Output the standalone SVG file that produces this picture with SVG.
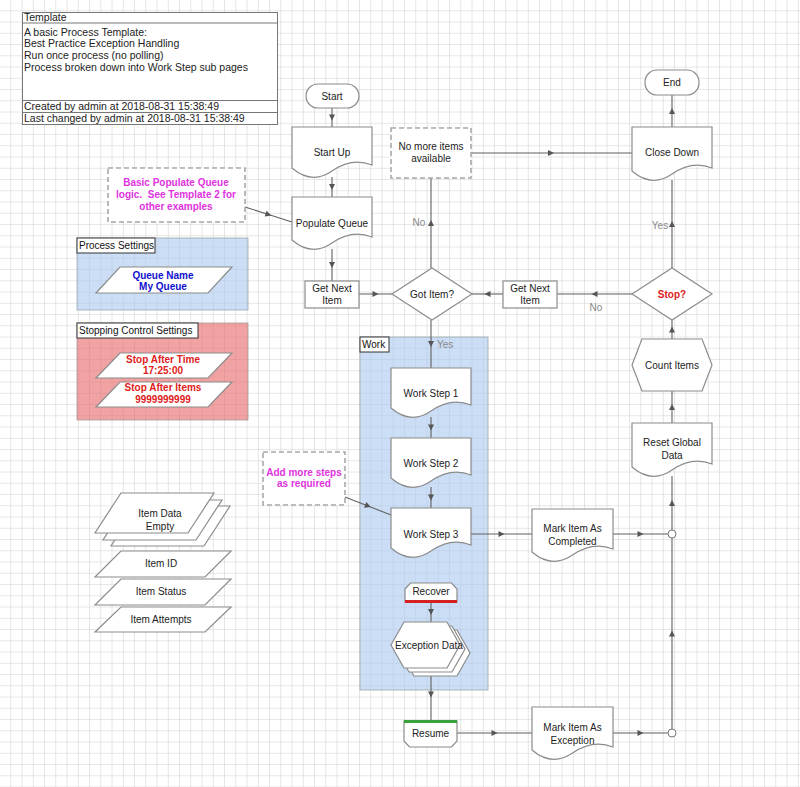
<svg xmlns="http://www.w3.org/2000/svg" width="800" height="787" viewBox="0 0 800 787">
<defs>
<pattern id="grid" width="11.25" height="11.25" patternUnits="userSpaceOnUse">
<path d="M11.25 0V11.25M0 11.25H11.25" fill="none" stroke="#cdcdcd" stroke-width="1"/>
</pattern>
<marker id="arr" viewBox="0 0 8 8" refX="4" refY="4" markerWidth="8" markerHeight="8" markerUnits="userSpaceOnUse" orient="auto">
<path d="M1 1L7 4L1 7Z" fill="#555"/>
</marker>
<style>
.t{font-family:"Liberation Sans",Arial,sans-serif;font-size:10px;fill:#222;text-anchor:middle}
.tl{font-family:"Liberation Sans",Arial,sans-serif;font-size:10.5px;fill:#222}
.lab{font-family:"Liberation Sans",Arial,sans-serif;font-size:10px;fill:#888}
.n{fill:#fff;stroke:#8c8c8c;stroke-width:1.2}
.note{fill:#fff;stroke:#a8a8a8;stroke-width:1.6;stroke-dasharray:5 3}
.mag{font-family:"Liberation Sans",Arial,sans-serif;font-size:10px;font-weight:bold;fill:#e033e0;text-anchor:middle}
.blu{font-family:"Liberation Sans",Arial,sans-serif;font-size:10px;font-weight:bold;fill:#1010d0;text-anchor:middle}
.red{font-family:"Liberation Sans",Arial,sans-serif;font-size:10px;font-weight:bold;fill:#e02020;text-anchor:middle}
.c{fill:none;stroke:#606060;stroke-width:1.1;marker-mid:url(#arr)}
.pl{font-family:"Liberation Sans",Arial,sans-serif;font-size:10px;fill:#111}
</style>
</defs>
<rect width="800" height="787" fill="#fff"/>
<rect width="800" height="787" fill="url(#grid)"/>

<!-- panels -->
<g id="panel-process-settings">
<rect x="77" y="238" width="171" height="72" fill="#a9c8ee" fill-opacity="0.6" stroke="#9aa" stroke-width="0.8"/>
<rect x="77" y="238" width="78" height="15" fill="#fff" stroke="#333" stroke-width="1"/>
<text class="pl" x="79" y="249">Process Settings</text>
</g>
<g id="panel-stopping">
<rect x="77" y="323" width="171" height="97" fill="#e86a6a" fill-opacity="0.62" stroke="#a99" stroke-width="0.8"/>
<rect x="77" y="323" width="121" height="15" fill="#fff" stroke="#333" stroke-width="1"/>
<text class="pl" x="79" y="334">Stopping Control Settings</text>
</g>
<g id="panel-work">
<rect x="360" y="337" width="128" height="353" fill="#a9c8ee" fill-opacity="0.6" stroke="#9aa" stroke-width="0.8"/>
<rect x="360" y="337" width="29" height="15" fill="#fff" stroke="#333" stroke-width="1"/>
<text class="pl" x="362" y="348">Work</text>
</g>

<!-- connectors -->
<g id="connectors">
<path class="c" d="M332 108L332 117.5L332 127"/>
<path class="c" d="M332 177L332 187L332 197"/>
<path class="c" d="M332 249L332 265L332 281"/>
<path class="c" d="M359 294L375.5 294L392 294"/>
<path class="c" d="M431 268L431 223L431 178"/>
<path class="c" d="M471 153L551 153L632 153"/>
<path class="c" d="M672 127L672 111L672 95"/>
<path class="c" d="M672 268L672 224L672 180"/>
<path class="c" d="M632 294L594.5 294L557 294"/>
<path class="c" d="M503 294L487.5 294L472 294"/>
<path class="c" d="M431 320L431 344L431 368"/>
<path class="c" d="M431 417L431 427.5L431 438"/>
<path class="c" d="M431 487L431 497.5L431 508"/>
<path class="c" d="M471 534L501.5 534L532 534"/>
<path class="c" d="M613 534L640.5 534L668 534"/>
<path class="c" d="M672 530L672 503L672 476"/>
<path class="c" d="M672 729L672 633.5L672 538"/>
<path class="c" d="M672 339L672 329.5L672 320"/>
<path class="c" d="M672 423L672 407L672 391"/>
<path class="c" d="M431 602L431 612L431 622"/>
<path class="c" d="M431 668L431 694.5L431 721"/>
<path class="c" d="M457 733L494.5 733L532 733"/>
<path class="c" d="M613 733L640.5 733L668 733"/>
<path class="c" d="M245 207L268.5 214.5L292 222"/>
<path class="c" d="M345 497L368 506L391 515"/>
<text class="lab" x="419" y="226" text-anchor="middle">No</text>
<text class="lab" x="660" y="228.5" text-anchor="middle">Yes</text>
<text class="lab" x="596" y="310.5" text-anchor="middle">No</text>
<text class="lab" x="437" y="347.5">Yes</text>
</g>

<!-- template box -->
<g id="template">
<rect x="22.5" y="12.5" width="255" height="112" fill="#fff" stroke="#777"/>
<path d="M22.5 23H277.5M22.5 100.5H277.5M22.5 112.5H277.5" stroke="#777" fill="none"/>
<text class="tl" x="24" y="21">Template</text>
<text class="tl" x="24" y="35.5">A basic Process Template:</text>
<text class="tl" x="24" y="47">Best Practice Exception Handling</text>
<text class="tl" x="24" y="58.5">Run once process (no polling)</text>
<text class="tl" x="24" y="70.5">Process broken down into Work Step sub pages</text>
<text class="tl" x="24" y="110">Created by admin at 2018-08-31 15:38:49</text>
<text class="tl" x="24" y="122">Last changed by admin at 2018-08-31 15:38:49</text>
</g>

<g id="start"><rect class="n" x="306" y="84" width="53" height="24" rx="12"/><text class="t" x="332" y="99.5">Start</text></g>
<g id="end"><rect class="n" x="645" y="70" width="54" height="25" rx="12"/><text class="t" x="672" y="85.5">End</text></g>

<g id="start-up"><path class="n" d="M292 127H372V165Q352 157 332 171Q312 185 292 168Z"/><text class="t" x="332" y="155.5">Start Up</text></g>
<g id="populate-queue"><path class="n" d="M292 197H372V237Q352 229 332 243Q312 257 292 240Z"/><text class="t" x="332" y="226.5">Populate Queue</text></g>
<g id="close-down"><path class="n" d="M632 127H712V168Q692 160 672 174Q652 188 632 171Z"/><text class="t" x="672" y="156">Close Down</text></g>

<g id="no-more-items"><rect class="note" x="391" y="128" width="80" height="50"/><text class="t" x="431" y="150">No more items</text><text class="t" x="431" y="162">available</text></g>

<g id="note-populate"><rect class="note" x="108" y="168" width="137" height="54"/>
<text class="mag" x="176" y="185.5">Basic Populate Queue</text>
<text class="mag" x="176" y="198" xml:space="preserve">logic.  See Template 2 for</text>
<text class="mag" x="176" y="210">other examples</text></g>

<g id="get-next-left"><rect class="n" x="305" y="281" width="54" height="27"/><text class="t" x="332" y="291.5">Get Next</text><text class="t" x="332" y="303.5">Item</text></g>
<g id="get-next-right"><rect class="n" x="503" y="281" width="54" height="27"/><text class="t" x="530" y="291.5">Get Next</text><text class="t" x="530" y="303.5">Item</text></g>

<g id="got-item"><path class="n" d="M392 294L432 268L472 294L432 320Z"/><text class="t" x="432" y="297.5">Got Item?</text></g>
<g id="stop"><path class="n" d="M632 294L672 268L712 294L672 320Z"/><text class="red" x="672" y="297.5">Stop?</text></g>

<g id="count-items"><path class="n" d="M632 365L642 339H702L712 365L702 391H642Z"/><text class="t" x="672" y="368.5">Count Items</text></g>
<g id="reset-global-data"><path class="n" d="M632 423H712V464Q692 456 672 470Q652 484 632 467Z"/><text class="t" x="672" y="445.5">Reset Global</text><text class="t" x="672" y="458.5">Data</text></g>

<g id="queue-name"><path class="n" d="M120 267H232L208 293H96Z"/><text class="blu" x="163" y="278.5">Queue Name</text><text class="blu" x="163" y="290">My Queue</text></g>
<g id="stop-after-time"><path class="n" d="M120 353H232L208 378H96Z"/><text class="red" x="163" y="362.5">Stop After Time</text><text class="red" x="163" y="374">17:25:00</text></g>
<g id="stop-after-items"><path class="n" d="M120 382H232L208 407H96Z"/><text class="red" x="163" y="391">Stop After Items</text><text class="red" x="163" y="402.5">9999999999</text></g>

<g id="work-step-1"><path class="n" d="M391 368H471V405Q451 397 431 411Q411 425 391 408Z"/><text class="t" x="431" y="396.5">Work Step 1</text></g>
<g id="work-step-2"><path class="n" d="M391 438H471V475Q451 467 431 481Q411 495 391 478Z"/><text class="t" x="431" y="466.5">Work Step 2</text></g>
<g id="work-step-3"><path class="n" d="M391 508H471V545Q451 537 431 551Q411 565 391 548Z"/><text class="t" x="431" y="537.5">Work Step 3</text></g>

<g id="note-steps"><rect class="note" x="263" y="452" width="82" height="53"/><text class="mag" x="304" y="475.5">Add more steps</text><text class="mag" x="304" y="487">as required</text></g>

<g id="recover"><path class="n" d="M405 589L410.5 583H451.5L457 589V602H405Z"/><path d="M405 601.5H457" stroke="#d42020" stroke-width="3"/><text class="t" x="431" y="594.5">Recover</text></g>

<g id="exception-data">
<path class="n" d="M401 653L414 630H457L470 653L457 676H414Z"/>
<path class="n" d="M396 649L409 626H452L465 649L452 672H409Z"/>
<path class="n" d="M391 645L404 622H447L460 645L447 668H404Z"/>
<text class="t" x="429" y="648.5">Exception Data</text></g>

<g id="resume"><path class="n" d="M404 721H457V741L451.5 747H409.5L404 741Z"/><path d="M404 721.5H457" stroke="#3aa03a" stroke-width="3"/><text class="t" x="430.5" y="736.5">Resume</text></g>

<g id="mark-completed"><path class="n" d="M532 509H613V549Q593 541 572.5 555Q552 569 532 552Z"/><text class="t" x="572.5" y="531.5">Mark Item As</text><text class="t" x="572.5" y="544.5">Completed</text></g>
<g id="mark-exception"><path class="n" d="M532 707H613V747Q593 739 572.5 753Q552 767 532 750Z"/><text class="t" x="572.5" y="730.5">Mark Item As</text><text class="t" x="572.5" y="743.5">Exception</text></g>

<g id="join-1"><circle cx="672" cy="534" r="4" fill="#fff" stroke="#777"/></g>
<g id="join-2"><circle cx="672" cy="733" r="4" fill="#fff" stroke="#777"/></g>

<g id="item-data">
<path class="n" d="M137 506H230L204 546H111Z"/>
<path class="n" d="M129 500H222L196 540H103Z"/>
<path class="n" d="M121 493H214L188 533H95Z"/>
<text class="t" x="160" y="517">Item Data</text><text class="t" x="160" y="530">Empty</text></g>
<g id="item-id"><path class="n" d="M121 551H231L205 577H95Z"/><text class="t" x="161" y="567">Item ID</text></g>
<g id="item-status"><path class="n" d="M121 579H231L205 605H95Z"/><text class="t" x="161" y="595">Item Status</text></g>
<g id="item-attempts"><path class="n" d="M121 607H231L205 632H95Z"/><text class="t" x="161" y="623">Item Attempts</text></g>
</svg>
